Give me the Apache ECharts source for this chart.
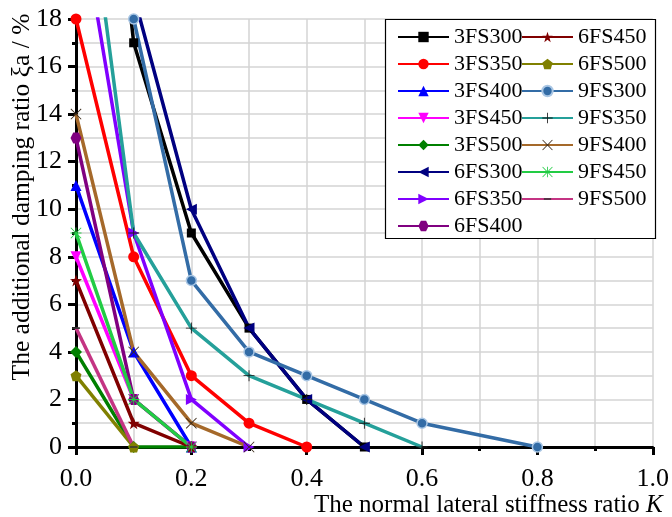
<!DOCTYPE html>
<html>
<head>
<meta charset="utf-8">
<script src="https://cdn.jsdelivr.net/npm/echarts@6/dist/echarts.min.js"></script>
<style>
  html, body { margin: 0; padding: 0; background: #fff; }
  #chart { width: 672px; height: 517px; }
</style>
</head>
<body>
<div id="chart"></div>
<script>
// Normal lateral stiffness ratio K (x positions shared by all series)
const kRatio = [0, 0.1, 0.2, 0.3, 0.4, 0.5, 0.6, 0.7, 0.8];

// Additional damping ratio (%) for each model, aligned with kRatio
const s3FS300 = [39, 17, 9, 5, 2, 0];
const s3FS350 = [18, 8, 3, 1, 0];
const s3FS400 = [11, 4, 0];
const s3FS450 = [8, 2, 0];
const s3FS500 = [4, 0, 0];
const s6FS300 = [null, 19, 10, 5, 2, 0];
const s6FS350 = [23.5, 9, 2, 0];
const s6FS400 = [13, 2, 0];
const s6FS450 = [7, 1, 0];
const s6FS500 = [3, 0];
const s9FS300 = [null, 18, 7, 4, 3, 2, 1, null, 0];
const s9FS350 = [27.5, 9, 5, 3, 2, 1, 0];
const s9FS400 = [14, 4, 1, 0];
const s9FS450 = [9, 2, 0];
const s9FS500 = [5, 0];

const seriesNames = ['3FS300', '3FS350', '3FS400', '3FS450', '3FS500',
  '6FS300', '6FS350', '6FS400', '6FS450', '6FS500',
  '9FS300', '9FS350', '9FS400', '9FS450', '9FS500'];
const seriesValues = [s3FS300, s3FS350, s3FS400, s3FS450, s3FS500,
  s6FS300, s6FS350, s6FS400, s6FS450, s6FS500,
  s9FS300, s9FS350, s9FS400, s9FS450, s9FS500];

// Marker shapes (all drawn inside a 20x20 box)
const SYM = {
  downTri: 'path://M0,0 L20,0 L10,17.3 Z',
  leftTri: 'path://M0,10 L17.3,0 L17.3,20 Z',
  rightTri: 'path://M0,0 L17.3,10 L0,20 Z',
  hexagon: 'path://M5,1.34 L15,1.34 L20,10 L15,18.66 L5,18.66 L0,10 Z',
  pentagon: 'path://M10,0 L19.51,6.91 L15.88,18.09 L4.12,18.09 L0.49,6.91 Z',
  star: 'path://M10,0 L12.35,6.76 L19.51,6.91 L13.8,11.24 L15.88,18.09 L10,14 L4.12,18.09 L6.2,11.24 L0.49,6.91 L7.65,6.76 Z',
  plus: 'path://M9.2,0 h1.6 v9.2 h9.2 v1.6 h-9.2 v9.2 h-1.6 v-9.2 h-9.2 v-1.6 h9.2 Z',
  cross: 'path://M1.1,0 L10,8.9 L18.9,0 L20,1.1 L11.1,10 L20,18.9 L18.9,20 L10,11.1 L1.1,20 L0,18.9 L8.9,10 L0,1.1 Z',
  asterisk: 'path://M9.2,0 h1.6 v9.2 h9.2 v1.6 h-9.2 v9.2 h-1.6 v-9.2 h-9.2 v-1.6 h9.2 Z M1.1,0 L10,8.9 L18.9,0 L20,1.1 L11.1,10 L20,18.9 L18.9,20 L10,11.1 L1.1,20 L0,18.9 L8.9,10 L0,1.1 Z',
  // a short bar centred in the box; the two specks pin the box to 20x20
  dash: 'path://M0,0 L0.01,0 L0,0.01 Z M20,20 L19.99,20 L20,19.99 Z M3,8.6 h14 v2.8 h-14 Z'
};

// Per-series look: line colour, marker, marker colour, marker size
const looks = [
  { c: '#000000', s: 'rect', size: 9 },
  { c: '#ff0000', s: 'circle', size: 11 },
  { c: '#0000ff', s: 'triangle', size: 11 },
  { c: '#ff00ff', s: SYM.downTri, size: 11 },
  { c: '#008000', s: 'diamond', size: 12 },
  { c: '#000080', s: SYM.leftTri, size: 11 },
  { c: '#8000ff', s: SYM.rightTri, size: 11 },
  { c: '#800080', s: SYM.hexagon, size: 11 },
  { c: '#800000', s: SYM.star, size: 12 },
  { c: '#808000', s: SYM.pentagon, size: 11 },
  { c: '#336ca6', s: 'circle', size: 10, border: '#a9c6e4' },
  { c: '#25a09a', s: SYM.plus, size: 11, mc: '#1a1a1a' },
  { c: '#a5692a', s: SYM.cross, size: 11, mc: '#3a2a1a' },
  { c: '#22cc44', s: SYM.asterisk, size: 11, mc: '#22cc44' },
  { c: '#c43483', s: SYM.dash, size: 11, mc: '#333333' }
];

const series = seriesNames.map((name, i) => {
  const lk = looks[i];
  const data = [];
  seriesValues[i].forEach((v, j) => data.push([kRatio[j], v]));
  return {
    name: name,
    type: 'line',
    data: data,
    connectNulls: true,
    symbol: lk.s,
    symbolSize: lk.size,
    showAllSymbol: true,
    lineStyle: { color: lk.c, width: 3.5 },
    itemStyle: {
      color: lk.mc || lk.c,
      borderColor: lk.border || (lk.mc || lk.c),
      borderWidth: lk.border ? 1.5 : 0
    },
    emphasis: { disabled: true },
    animation: false
  };
});

const serif = 'Liberation Serif';
const legendCommon = {
  orient: 'vertical',
  itemWidth: 51,
  itemHeight: 13,
  itemGap: 5,
  padding: 0,
  textStyle: { fontFamily: serif, fontSize: 22, color: '#000' },
  selectedMode: false
};

const chart = echarts.init(document.getElementById('chart'), null, { renderer: 'canvas' });
chart.setOption({
  backgroundColor: '#ffffff',
  animation: false,
  grid: { left: 76, right: 19, top: 19, bottom: 70, containLabel: false },
  xAxis: {
    type: 'value',
    min: 0,
    max: 1,
    interval: 0.2,
    axisLine: { show: true, onZero: false, lineStyle: { color: '#000', width: 3 } },
    axisTick: { show: true, inside: false, length: 8, lineStyle: { color: '#000', width: 3 } },
    minorTick: { show: true, splitNumber: 2, length: 4, lineStyle: { color: '#000', width: 3 } },
    splitLine: { show: true, lineStyle: { color: '#d4d4d4', width: 1.5 } },
    minorSplitLine: { show: true, lineStyle: { color: '#d4d4d4', width: 1.5 } },
    axisLabel: {
      margin: 19,
      fontFamily: serif,
      fontSize: 26,
      color: '#000',
      formatter: v => v.toFixed(1)
    }
  },
  yAxis: {
    type: 'value',
    min: 0,
    max: 18,
    interval: 2,
    axisLine: { show: true, onZero: false, lineStyle: { color: '#000', width: 3 } },
    axisTick: { show: true, inside: false, length: 8, lineStyle: { color: '#000', width: 3 } },
    minorTick: { show: true, splitNumber: 2, length: 4, lineStyle: { color: '#000', width: 3 } },
    splitLine: { show: true, lineStyle: { color: '#d4d4d4', width: 1.5 } },
    minorSplitLine: { show: true, lineStyle: { color: '#d4d4d4', width: 1.5 } },
    axisLabel: { margin: 14, fontFamily: serif, fontSize: 26, color: '#000' }
  },
  legend: [
    Object.assign({}, legendCommon, { left: 397, top: 26, data: seriesNames.slice(0, 8) }),
    Object.assign({}, legendCommon, { left: 521, top: 26, data: seriesNames.slice(8) })
  ],
  graphic: {
    elements: [
      {
        type: 'rect',
        z: 3,
        shape: { x: 385.5, y: 19.5, width: 270, height: 219 },
        style: { fill: '#ffffff', stroke: '#000000', lineWidth: 1.2 }
      },
      {
        type: 'text',
        z: 5,
        x: 22,
        y: 197,
        rotation: Math.PI / 2,
        style: {
          text: 'The additional damping ratio ξa / %',
          fontFamily: serif,
          fontSize: 25.5,
          fill: '#000',
          align: 'center',
          verticalAlign: 'middle'
        }
      },
      {
        type: 'text',
        z: 5,
        x: 314,
        y: 505,
        style: {
          text: 'The normal lateral stiffness ratio {k|K}',
          fontFamily: serif,
          fontSize: 25,
          fill: '#000',
          align: 'left',
          verticalAlign: 'middle',
          rich: {
            k: { fontFamily: serif, fontSize: 25, fontStyle: 'italic', fill: '#000' }
          }
        }
      }
    ]
  },
  series: series
});
</script>
</body>
</html>
